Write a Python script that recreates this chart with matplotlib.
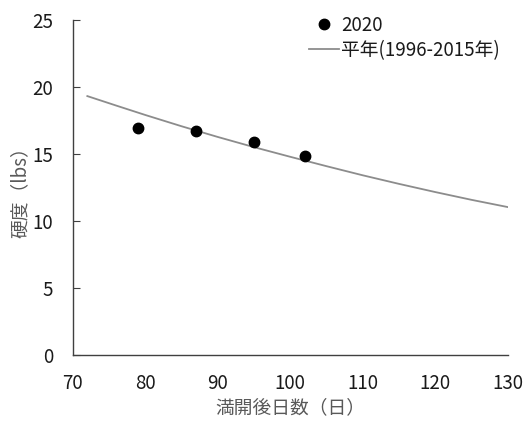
import matplotlib
matplotlib.use("Agg")
import matplotlib.pyplot as plt
from matplotlib.lines import Line2D

plt.rcParams['font.family'] = ['Noto Sans CJK JP', 'DejaVu Sans']

# data
obs_days = [79, 87, 95, 102]
obs_hardness = [16.9, 16.7, 15.87, 14.85]
norm_days = [72, 76, 80, 85, 90, 95, 100, 105, 110, 115, 120, 125, 130]
norm_hardness = [19.31, 18.6, 17.9, 17.06, 16.26, 15.5, 14.78, 14.08, 13.4, 12.76, 12.15, 11.57, 11.03]
xticks = [70, 80, 90, 100, 110, 120, 130]
yticks = [0, 5, 10, 15, 20, 25]

fig = plt.figure(figsize=(5.24, 4.22), dpi=100)
ax = fig.add_axes([0.139, 0.159, 0.830, 0.794])

ax.plot(norm_days, norm_hardness, color='#8c8c8c', lw=1.3)
ax.plot(obs_days, obs_hardness, 'o', color='black', ms=7.5, ls='none')

ax.set_xlim(70, 130)
ax.set_ylim(0, 25)
ax.set_xticks(xticks)
ax.set_yticks(yticks)
ax.spines['top'].set_visible(False)
ax.spines['right'].set_visible(False)
for s in ('left', 'bottom'):
    ax.spines[s].set_color('#404040')
    ax.spines[s].set_linewidth(1.0)
ax.tick_params(axis='y', direction='in', length=5, color='#404040', labelsize=13.5, labelcolor='#1a1a1a', pad=14)
ax.tick_params(axis='x', length=0, labelsize=13.5, labelcolor='#1a1a1a', pad=13)

ax.set_xlabel('満開後日数（日）', fontsize=13.5, color='#595959', labelpad=2)
ax.set_ylabel('硬度（lbs）', fontsize=13.5, color='#595959', labelpad=1)

handles = [Line2D([], [], marker='o', color='black', ms=7.5, ls='none'),
           Line2D([], [], color='#8c8c8c', lw=1.3)]
leg = ax.legend(handles, ['2020', '平年(1996-2015年)'], loc='upper right',
                bbox_to_anchor=(1.02, 1.065), frameon=False, fontsize=13.5,
                handlelength=1.6, handletextpad=0.1, labelspacing=0.2,
                labelcolor='#1a1a1a')

fig.savefig('out.png', dpi=100)
